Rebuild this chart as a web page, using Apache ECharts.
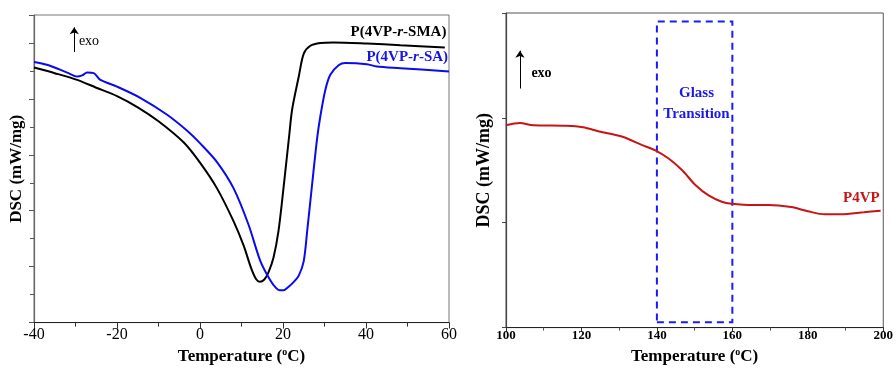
<!DOCTYPE html>
<html>
<head>
<meta charset="utf-8">
<script src="https://cdn.jsdelivr.net/npm/echarts@6/dist/echarts.min.js"></script>
<style>
  html, body { margin: 0; padding: 0; background: #fff; }
  #chart { width: 896px; height: 370px; }
</style>
</head>
<body>
<div id="chart"></div>
<script>
// left panel: P(4VP-r-SMA) and P(4VP-r-SA), arbitrary DSC units
const smaTemp = [-40, -35, -29.6, -25, -20, -15, -10, -3.9, 0, 4.1, 8.1, 10.5, 12.3, 13.5, 14.4, 15.5, 16.5, 17.7, 18.9, 20.2, 21.5, 22.2, 23.8, 25, 26.6, 29, 32.2, 40.2, 48.3, 59];
const smaDsc = [4.56, 4.46, 4.34, 4.2, 4.05, 3.85, 3.6, 3.22, 2.86, 2.4, 1.81, 1.38, 0.98, 0.78, 0.73, 0.77, 0.9, 1.16, 1.63, 2.46, 3.35, 3.81, 4.4, 4.81, 4.95, 5.0, 5.01, 4.99, 4.96, 4.92];
const saTemp = [-40, -36.9, -32, -29.6, -28.4, -27.2, -25.6, -24, -20, -14.4, -8, -3.1, 0.1, 4.1, 8.1, 11.7, 14.5, 16.9, 18.3, 19.2, 20.2, 21, 22.5, 23.8, 25, 25.9, 27, 28.2, 29, 30.2, 31.4, 33.4, 35, 40.2, 42.6, 48.3, 60];
const saDsc = [4.66, 4.61, 4.47, 4.4, 4.42, 4.47, 4.46, 4.34, 4.22, 4.02, 3.72, 3.43, 3.2, 2.87, 2.4, 1.75, 1.11, 0.76, 0.62, 0.58, 0.58, 0.62, 0.72, 0.84, 1.1, 1.69, 2.46, 3.28, 3.69, 4.16, 4.43, 4.6, 4.64, 4.62, 4.58, 4.55, 4.49];
// right panel: P4VP
const p4vpTemp = [100, 103.7, 107.2, 116, 120.4, 124.7, 130.9, 136.1, 139.6, 143.2, 146.7, 150.2, 153.7, 157.2, 159.8, 164.2, 169.5, 175.6, 180, 184.4, 188.8, 194.9, 199.3];
const p4vpDsc = [1.93, 1.95, 1.93, 1.925, 1.91, 1.87, 1.82, 1.74, 1.69, 1.61, 1.5, 1.36, 1.26, 1.2, 1.18, 1.17, 1.17, 1.15, 1.11, 1.08, 1.08, 1.1, 1.115];
const glassRange = [140, 160];

const serif = 'Liberation Serif';
const pairs = (xs, ys) => xs.map((x, i) => [x, ys[i]]);

const nameRich = {
  n: { fontFamily: serif, fontWeight: 'bold', fontSize: 17, color: '#000' },
  s: { fontFamily: serif, fontWeight: 'bold', fontSize: 10, color: '#000', verticalAlign: 'top', padding: [0, 0, 8, 0] }
};
const labelRich = {
  b: { fontFamily: serif, fontWeight: 'bold', fontSize: 15 },
  i: { fontFamily: serif, fontWeight: 'bold', fontStyle: 'italic', fontSize: 15 }
};

function textPoint(coord, text, pos, style) {
  return {
    coord: coord,
    symbol: 'circle',
    symbolSize: 1,
    itemStyle: { color: 'transparent' },
    label: Object.assign({ show: true, position: pos, distance: 0, formatter: text, fontFamily: serif }, style)
  };
}
function arrow(x, y1, y2) {
  return [{ coord: [x, y1], symbol: 'none' }, { coord: [x, y2], symbol: 'arrow', symbolSize: 7 }];
}

const chart = echarts.init(document.getElementById('chart'));
const option = {
  animation: false,
  grid: [
    { left: 34, right: 447, top: 15, bottom: 44, show: true, borderColor: '#777', borderWidth: 1 },
    { left: 506, right: 10, top: 13, bottom: 36, show: true, borderColor: '#555', borderWidth: 1 }
  ],
  xAxis: [
    {
      gridIndex: 0, type: 'value', min: -40, max: 60, interval: 20,
      axisLine: { onZero: false, lineStyle: { color: '#222', width: 1.2 } },
      axisTick: { inside: false, length: 6, lineStyle: { color: '#333' } },
      minorTick: { show: true, splitNumber: 2, length: 4, lineStyle: { color: '#333' } },
      splitLine: { show: false },
      axisLabel: { fontFamily: serif, fontSize: 16, color: '#000', margin: 4 },
      name: '{n|Temperature (}{s|o}{n|C)}', nameLocation: 'middle', nameGap: 21,
      nameTextStyle: { rich: nameRich }
    },
    {
      gridIndex: 1, type: 'value', min: 100, max: 200, interval: 20,
      axisLine: { onZero: false, lineStyle: { color: '#222', width: 1.2 } },
      axisTick: { inside: false, length: 4, lineStyle: { color: '#333' } },
      minorTick: { show: true, splitNumber: 2, length: 3, lineStyle: { color: '#555' } },
      splitLine: { show: false },
      axisLabel: { fontFamily: serif, fontSize: 13, fontWeight: 'bold', color: '#000', margin: 2 },
      name: '{n|Temperature (}{s|o}{n|C)}', nameLocation: 'middle', nameGap: 5,
      nameTextStyle: { rich: nameRich }
    }
  ],
  yAxis: [
    {
      gridIndex: 0, type: 'value', min: 0, max: 5.5, interval: 1,
      axisLine: { onZero: false, lineStyle: { color: '#666', width: 1.2 } },
      axisTick: { inside: false, length: 5, lineStyle: { color: '#555' } },
      minorTick: { show: true, splitNumber: 2, length: 4, lineStyle: { color: '#555' } },
      splitLine: { show: false },
      axisLabel: { show: false },
      name: 'DSC (mW/mg)', nameLocation: 'middle', nameGap: 9,
      nameTextStyle: { fontFamily: serif, fontWeight: 'bold', fontSize: 17, color: '#000' }
    },
    {
      gridIndex: 1, type: 'value', min: 0, max: 3, interval: 1,
      axisLine: { onZero: false, lineStyle: { color: '#444', width: 1.2 } },
      axisTick: { inside: false, length: 4, lineStyle: { color: '#444' } },
      splitLine: { show: false },
      axisLabel: { show: false },
      name: 'DSC (mW/mg)', nameLocation: 'middle', nameGap: 13,
      nameTextStyle: { fontFamily: serif, fontWeight: 'bold', fontSize: 18, color: '#000' }
    }
  ],
  series: [
    {
      name: 'P(4VP-r-SMA)', type: 'line', xAxisIndex: 0, yAxisIndex: 0,
      data: pairs(smaTemp, smaDsc), smooth: 0.3, showSymbol: false,
      lineStyle: { color: '#000', width: 2 },
      markLine: {
        silent: true, symbol: ['none', 'arrow'], symbolSize: 7,
        lineStyle: { color: '#000', width: 1, type: 'solid' },
        label: { show: false },
        data: [arrow(-30.3, 4.84, 5.28)]
      },
      markPoint: {
        silent: true,
        data: [
          textPoint([59.5, 5.2], '{b|P(4VP-}{i|r}{b|-SMA)}', 'left', { color: '#000', rich: labelRich }),
          textPoint([-29.3, 5.03], 'exo', 'right', { color: '#000', fontSize: 14 })
        ]
      }
    },
    {
      name: 'P(4VP-r-SA)', type: 'line', xAxisIndex: 0, yAxisIndex: 0,
      data: pairs(saTemp, saDsc), smooth: 0.3, showSymbol: false,
      lineStyle: { color: '#0a0af0', width: 2 },
      markPoint: {
        silent: true,
        data: [
          textPoint([59.9, 4.74], '{b|P(4VP-}{i|r}{b|-SA)}', 'left', { color: '#1414e6', rich: labelRich })
        ]
      }
    },
    {
      name: 'P4VP', type: 'line', xAxisIndex: 1, yAxisIndex: 1,
      data: pairs(p4vpTemp, p4vpDsc), smooth: 0.3, showSymbol: false,
      lineStyle: { color: '#c81414', width: 2 },
      markArea: {
        silent: true,
        itemStyle: { color: 'transparent', borderColor: '#1a1aff', borderWidth: 2, borderType: [7, 5] },
        label: { show: false },
        data: [[{ coord: [glassRange[0], 0.05] }, { coord: [glassRange[1], 2.92] }]]
      },
      markLine: {
        silent: true, symbol: ['none', 'arrow'], symbolSize: 7,
        lineStyle: { color: '#000', width: 1, type: 'solid' },
        label: { show: false },
        data: [arrow(103.7, 2.28, 2.64)]
      },
      markPoint: {
        silent: true,
        data: [
          textPoint([106.6, 2.42], 'exo', 'right', { color: '#000', fontSize: 14, fontWeight: 'bold' }),
          textPoint([150.5, 2.14], 'Glass\nTransition', 'inside', { color: '#1a1ae6', fontSize: 15, fontWeight: 'bold', lineHeight: 21, align: 'center' }),
          textPoint([199.2, 1.23], 'P4VP', 'left', { color: '#c81414', fontSize: 15, fontWeight: 'bold' })
        ]
      }
    }
  ]
};
chart.setOption(option);
</script>
</body>
</html>
